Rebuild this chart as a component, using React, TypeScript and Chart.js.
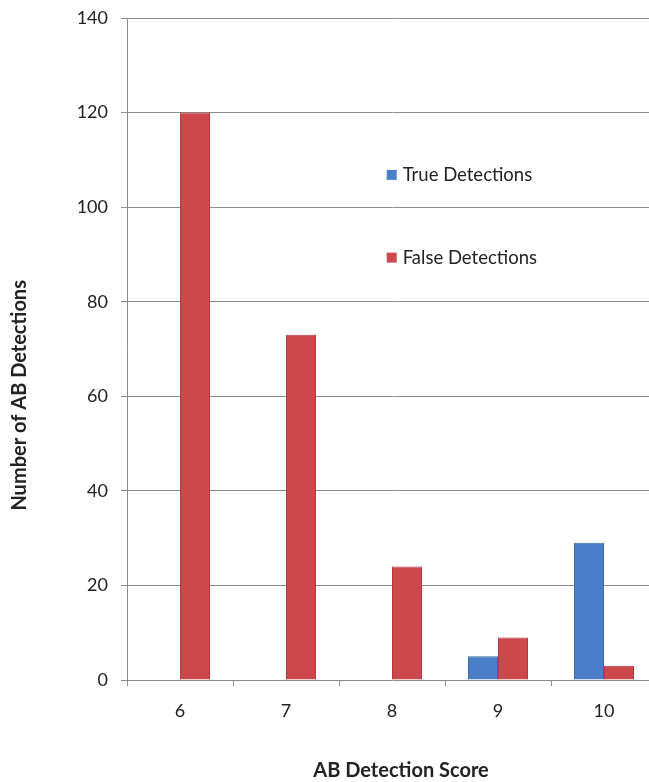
import React, { useEffect, useRef } from "react";
import { Chart, registerables } from "chart.js";

Chart.register(...registerables);

const categories = ["6", "7", "8", "9", "10"];
const trueDetections = [0, 0, 0, 5, 29];
const falseDetections = [120, 73, 24, 9, 3];
const seriesLabels = ["True Detections", "False Detections"];
const yMax = 140;
const yStep = 20;
const xTitle = "AB Detection Score";
const yTitle = "Number of AB Detections";

const FONT = "Lato, 'Open Sans', sans-serif";
const TEXT = "#222222";
const GRID = "#8c8c8c";
const BLUE = "#4a7ec8";
const BLUE_EDGE = "#3a68a8";
const RED = "#cc484c";
const RED_EDGE = "#b03a3e";

const overlay = {
  id: "overlay",
  afterDraw(chart: any) {
    const { ctx, chartArea: a } = chart;
    const w = a.right - a.left;
    const h = a.bottom - a.top;
    ctx.save();
    // legend inside plot area
    chart.data.datasets.forEach((ds: any, i: number) => {
      const x = a.left + w * 0.49;
      const y = a.top + h * (0.237 + i * 0.125);
      ctx.fillStyle = ds.backgroundColor;
      ctx.fillRect(x, y - 5, 10, 10);
      ctx.fillStyle = TEXT;
      ctx.font = `18.5px ${FONT}`;
      ctx.textBaseline = "middle";
      ctx.textAlign = "left";
      ctx.fillText(ds.label, x + 16, y);
    });
    // axis titles
    ctx.font = `bold 20px ${FONT}`;
    ctx.fillStyle = TEXT;
    ctx.textAlign = "center";
    ctx.textBaseline = "middle";
    ctx.fillText(xTitle, a.left + w * 0.517, 771);
    ctx.translate(20, a.top + h * 0.57);
    ctx.rotate(-Math.PI / 2);
    ctx.fillText(yTitle, 0, 0);
    ctx.restore();
  },
};

export default function App() {
  const ref = useRef<HTMLCanvasElement>(null);
  useEffect(() => {
    if (!ref.current) return;
    const chart = new Chart(ref.current, {
      type: "bar",
      data: {
        labels: categories,
        datasets: [
          {
            label: seriesLabels[0],
            data: trueDetections,
            backgroundColor: BLUE,
            borderColor: BLUE_EDGE,
            borderWidth: 1,
          },
          {
            label: seriesLabels[1],
            data: falseDetections,
            backgroundColor: RED,
            borderColor: RED_EDGE,
            borderWidth: 1,
          },
        ],
      },
      options: {
        animation: false,
        responsive: true,
        maintainAspectRatio: false,
        layout: { padding: { top: 18, left: 0, right: 0, bottom: 0 } },
        plugins: {
          legend: { display: false },
          tooltip: { enabled: false },
        },
        datasets: {
          bar: { barPercentage: 1, categoryPercentage: 0.566 },
        },
        scales: {
          x: {
            offset: true,
            grid: {
              offset: true,
              drawOnChartArea: false,
              drawTicks: true,
              tickLength: 6,
              color: GRID,
            },
            border: { display: false },
            ticks: {
              color: TEXT,
              font: { family: FONT, size: 18 },
              padding: 14,
            },
            afterFit(scale: any) {
              scale.height = 102;
            },
          },
          y: {
            min: 0,
            max: yMax,
            ticks: {
              stepSize: yStep,
              color: TEXT,
              font: { family: FONT, size: 18 },
              padding: 13,
            },
            grid: { color: GRID, tickLength: 6 },
            border: { display: true, color: GRID },
            afterFit(scale: any) {
              scale.width = 127;
              scale.paddingTop = 0;
            },
          },
        },
      },
      plugins: [overlay],
    });
    return () => chart.destroy();
  }, []);
  return (
    <div
      style={{
        position: "fixed",
        left: 0,
        top: 0,
        width: 649,
        height: 782,
        overflow: "hidden",
        background: "#fff",
      }}
    >
      <div style={{ position: "relative", width: 657, height: 782 }}>
        <canvas ref={ref} />
      </div>
    </div>
  );
}
